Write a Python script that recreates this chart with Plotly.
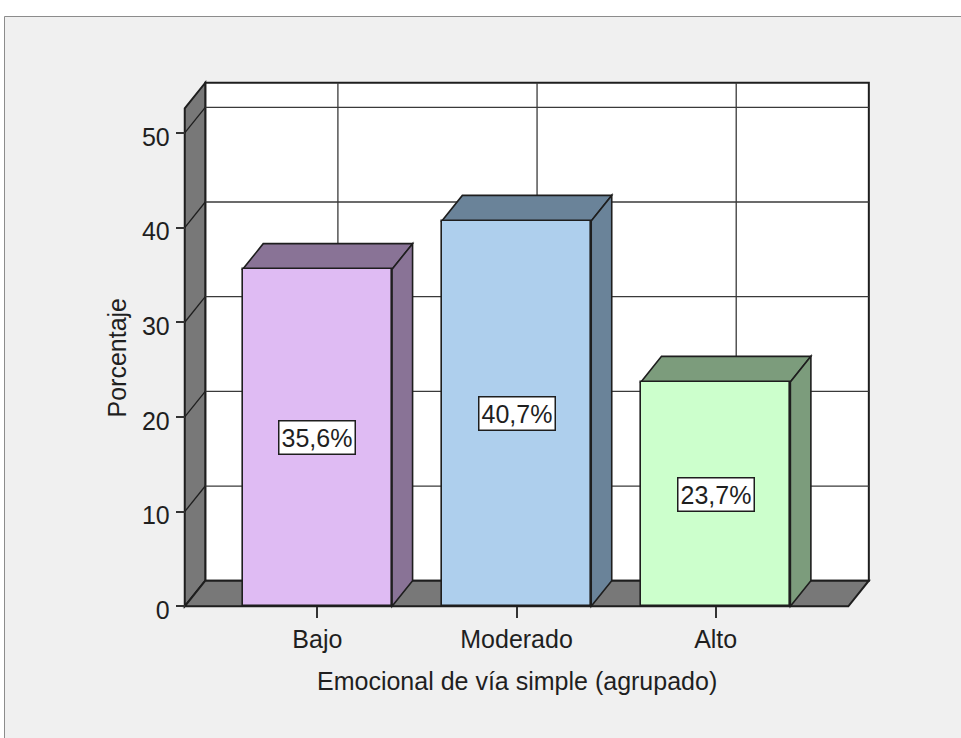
import plotly.graph_objects as go

# Data
categories = ["Bajo", "Moderado", "Alto"]
percentages = [35.6, 40.7, 23.7]
y_ticks = [0, 10, 20, 30, 40, 50]

# Styling
front_colors = ["#dfbbf3", "#aecfed", "#ccffcc"]
shade_colors = ["#897396", "#6a8399", "#7c9c7c"]
wall_color = "#787878"
edge_color = "#1e1e1e"
grid_color = "#3a3a3a"
text_color = "#1f1f1f"
FONT = "Liberation Sans, Arial, sans-serif"
FS = 25

W, H = 961, 738
ML, MR, MT, MB = 174, 82, 78, 127
PW, PH = W - ML - MR, H - MT - MB

X_RANGE = [-0.72, 2.82]
Y_RANGE = [-0.5, 55.8]

# 3D box geometry (in data units)
XL, XR = -0.666, 2.666      # front plane left/right
YT = 52.6                   # front plane top
DX, DY = 0.103, 2.7         # depth offset
BAR_W = 0.75


def px_x(p):
    return (p - ML) / PW


def px_y(p):
    return (H - MB - p) / PH


def poly(pts):
    return "M " + " L ".join(f"{x},{y}" for x, y in pts) + " Z"


shapes = []

# Outer panel
shapes.append(dict(type="rect", xref="paper", yref="paper",
                   x0=px_x(4.5), x1=px_x(975), y0=px_y(16.5), y1=px_y(760),
                   fillcolor="#f0f0f0", line=dict(color="#8c8c8c", width=1),
                   layer="below"))

# Back wall
shapes.append(dict(type="rect", xref="x", yref="y",
                   x0=XL + DX, x1=XR + DX, y0=DY, y1=YT + DY,
                   fillcolor="white", line=dict(color=edge_color, width=2),
                   layer="below"))
# Left wall
shapes.append(dict(type="path", xref="x", yref="y",
                   path=poly([(XL, 0), (XL, YT), (XL + DX, YT + DY), (XL + DX, DY)]),
                   fillcolor=wall_color, line=dict(color=edge_color, width=2),
                   layer="below"))
# Floor
shapes.append(dict(type="path", xref="x", yref="y",
                   path=poly([(XL, 0), (XR, 0), (XR + DX, DY), (XL + DX, DY)]),
                   fillcolor=wall_color, line=dict(color=edge_color, width=2),
                   layer="below"))

# Grid lines on the back wall and left wall
for v in y_ticks[1:]:
    shapes.append(dict(type="line", xref="x", yref="y",
                       x0=XL + DX, x1=XR + DX, y0=v + DY, y1=v + DY,
                       line=dict(color=grid_color, width=1.3), layer="below"))
    shapes.append(dict(type="line", xref="x", yref="y",
                       x0=XL, x1=XL + DX, y0=v, y1=v + DY,
                       line=dict(color=edge_color, width=1.3), layer="below"))
for i in range(len(categories)):
    shapes.append(dict(type="line", xref="x", yref="y",
                       x0=i + DX, x1=i + DX, y0=DY, y1=YT + DY,
                       line=dict(color=grid_color, width=1.3), layer="below"))

# Top and side faces of each bar
for i, v in enumerate(percentages):
    x0, x1 = i - BAR_W / 2, i + BAR_W / 2
    shapes.append(dict(type="path", xref="x", yref="y",
                       path=poly([(x0, v), (x1, v), (x1 + DX, v + DY), (x0 + DX, v + DY)]),
                       fillcolor=shade_colors[i], line=dict(color=edge_color, width=1.6),
                       layer="below"))
    shapes.append(dict(type="path", xref="x", yref="y",
                       path=poly([(x1, 0), (x1 + DX, DY), (x1 + DX, v + DY), (x1, v)]),
                       fillcolor=shade_colors[i], line=dict(color=edge_color, width=1.6),
                       layer="below"))

fig = go.Figure()
fig.add_trace(go.Bar(
    x=list(range(len(categories))), y=percentages, width=BAR_W,
    marker=dict(color=front_colors, line=dict(color=edge_color, width=1.6)),
    hoverinfo="skip", showlegend=False,
))

annotations = []
for i, v in enumerate(percentages):
    annotations.append(dict(
        x=i, y=v / 2, xref="x", yref="y", showarrow=False,
        xanchor="center", yanchor="middle",
        text=f"{v:.1f}%".replace(".", ","),
        font=dict(family=FONT, size=FS, color=text_color),
        bgcolor="white", bordercolor=edge_color, borderwidth=1.5, borderpad=2,
    ))

annotations.append(dict(
    x=px_x(116.5), y=px_y(358), xref="paper", yref="paper", showarrow=False,
    xanchor="center", yanchor="middle",
    text="Porcentaje", textangle=-90,
    font=dict(family=FONT, size=FS, color=text_color),
))
annotations.append(dict(
    x=1, y=px_y(681), xref="x", yref="paper", showarrow=False,
    xanchor="center", yanchor="middle",
    text="Emocional de vía simple (agrupado)",
    font=dict(family=FONT, size=FS, color=text_color),
))

fig.update_layout(
    width=W, height=H,
    margin=dict(l=ML, r=MR, t=MT, b=MB),
    paper_bgcolor="white", plot_bgcolor="rgba(0,0,0,0)",
    shapes=shapes, annotations=annotations,
    font=dict(family=FONT, size=FS, color=text_color),
    bargap=0,
    xaxis=dict(
        range=X_RANGE, tickvals=list(range(len(categories))), ticktext=categories,
        anchor="free", position=(0 - Y_RANGE[0]) / (Y_RANGE[1] - Y_RANGE[0]),
        showgrid=False, zeroline=False, showline=False,
        ticks="outside", ticklen=11, tickwidth=2, tickcolor="#333333",
        tickfont=dict(family=FONT, size=FS, color=text_color),
        fixedrange=True,
    ),
    yaxis=dict(
        range=Y_RANGE, tickvals=y_ticks,
        anchor="free", position=(XL - X_RANGE[0]) / (X_RANGE[1] - X_RANGE[0]),
        showgrid=False, zeroline=False, showline=False,
        ticks="outside", ticklen=9, tickwidth=2, tickcolor="#333333",
        ticklabelshift=4, ticklabelstandoff=1,
        tickfont=dict(family=FONT, size=FS, color=text_color),
        fixedrange=True,
    ),
)

fig.write_html("out.html", config={"displayModeBar": False})
